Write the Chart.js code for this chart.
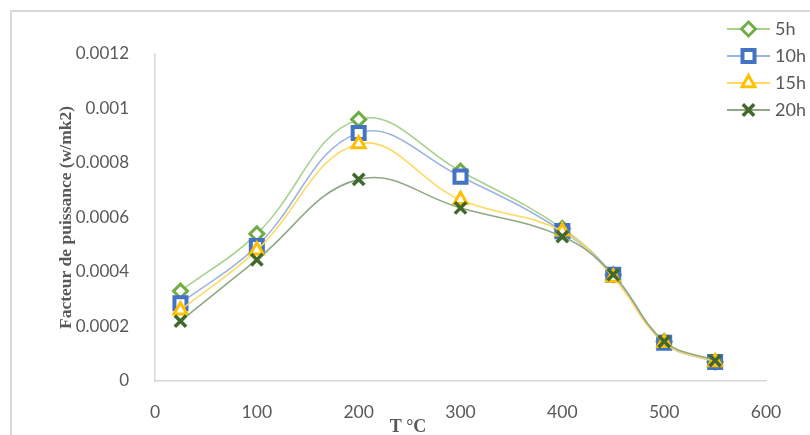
<!DOCTYPE html>
<html>
<head>
<meta charset="utf-8">
<script src="https://cdn.jsdelivr.net/npm/chart.js@4.4.1/dist/chart.umd.min.js"></script>
<style>
  html, body { margin: 0; padding: 0; background: #fff; overflow: hidden; }
  #frame { position: absolute; left: 10px; top: 10px; width: 820px; height: 450px; border: 2px solid #d9d9d9; }
  #wrap { position: absolute; left: 0; top: 0; width: 810px; height: 435px; }
</style>
</head>
<body>
<div id="frame"></div>
<div id="wrap"><canvas id="chart" width="810" height="435"></canvas></div>
<script>
// temperatures (°C)
const temps = [25, 100, 200, 300, 400, 450, 500, 550];

// power factor per annealing time
const h5  = [0.00033, 0.00054, 0.00096, 0.00077, 0.00056, 0.00039, 0.000145, 0.00007];
const h10 = [0.000285, 0.000495, 0.00091, 0.00075, 0.00055, 0.00039, 0.00014, 0.00007];
const h15 = [0.00026, 0.00048, 0.00087, 0.000665, 0.00055, 0.00038, 0.00014, 0.00007];
const h20 = [0.00022, 0.000445, 0.00074, 0.000635, 0.00053, 0.00039, 0.000145, 0.000075];

const seriesNames = ['5h', '10h', '15h', '20h'];
const yTicks = [0, 0.0002, 0.0004, 0.0006, 0.0008, 0.001, 0.0012];

const textColor = '#595959';

function pts(vals) {
  return temps.map((t, i) => ({ x: t, y: vals[i] }));
}

const styles = [
  { line: '#a9d18e', mark: '#70ad47', shape: 'rectRot', r: 7, bw: 3 },
  { line: '#9db4e0', mark: '#4472c4', shape: 'rect', r: 8.5, bw: 4 },
  { line: '#ffd966', mark: '#ffc000', shape: 'triangle', r: 7.5, bw: 3 },
  { line: '#8fa886', mark: '#43682b', shape: 'crossRot', r: 8, bw: 3.5 }
];

const allData = [h5, h10, h15, h20];

const datasets = allData.map((vals, i) => ({
  label: seriesNames[i],
  data: pts(vals),
  borderColor: styles[i].line,
  borderWidth: 1.6,
  tension: 0.4,
  pointStyle: styles[i].shape,
  pointRadius: styles[i].r,
  pointBorderWidth: styles[i].bw,
  pointBorderColor: styles[i].mark,
  pointBackgroundColor: '#ffffff',
  order: 4 - i
}));

// legend with line + marker, and the x axis title
const extras = {
  id: 'extras',
  afterDraw(chart) {
    const ctx = chart.ctx;
    ctx.save();
    styles.forEach((s, i) => {
      const y = 29 + i * 27;
      ctx.strokeStyle = s.line;
      ctx.lineWidth = 2;
      ctx.beginPath();
      ctx.moveTo(727, y);
      ctx.lineTo(770, y);
      ctx.stroke();
      ctx.strokeStyle = s.mark;
      ctx.fillStyle = '#ffffff';
      ctx.lineWidth = s.bw;
      Chart.helpers.drawPoint(ctx, { pointStyle: s.shape, radius: s.r, rotation: 0, borderWidth: s.bw }, 748.5, y);
      ctx.fillStyle = textColor;
      ctx.font = '18px Lato';
      ctx.textAlign = 'left';
      ctx.textBaseline = 'middle';
      ctx.fillText(seriesNames[i], 775, y);
    });
    ctx.fillStyle = textColor;
    ctx.font = 'bold 18px "Liberation Serif"';
    ctx.textAlign = 'center';
    ctx.textBaseline = 'middle';
    ctx.fillText('T °C', 408, 427);
    ctx.restore();
  }
};

new Chart(document.getElementById('chart').getContext('2d'), {
  type: 'line',
  data: { datasets: datasets },
  options: {
    responsive: false,
    animation: false,
    devicePixelRatio: 1,
    layout: { padding: { left: 52, right: 44, top: 54, bottom: 0 } },
    plugins: {
      legend: { display: false },
      tooltip: { enabled: false }
    },
    scales: {
      x: {
        type: 'linear',
        min: 0,
        max: 600,
        ticks: { stepSize: 100, color: textColor, font: { family: 'Lato', size: 17.5 }, padding: 13 },
        grid: { display: false },
        border: { display: true, color: '#d9d9d9', width: 1.5 },
        afterFit: (scale) => { scale.height = 54; }
      },
      y: {
        min: 0,
        max: 0.0012,
        afterBuildTicks: (scale) => { scale.ticks = yTicks.map(v => ({ value: v })); },
        ticks: {
          color: textColor,
          font: { family: 'Lato', size: 17 },
          padding: 18,
          callback: (v) => String(parseFloat(Number(v).toFixed(4)))
        },
        grid: { display: false },
        border: { display: true, color: '#d9d9d9', width: 1.5 },
        title: {
          display: true,
          text: 'Facteur de puissance (w/mk2)',
          color: textColor,
          font: { family: 'Liberation Serif', size: 17.5, weight: 'bold' },
          padding: { top: 4, bottom: 0 }
        },
        afterFit: (scale) => { scale.width = 103; }
      }
    }
  },
  plugins: [extras]
});
</script>
</body>
</html>
